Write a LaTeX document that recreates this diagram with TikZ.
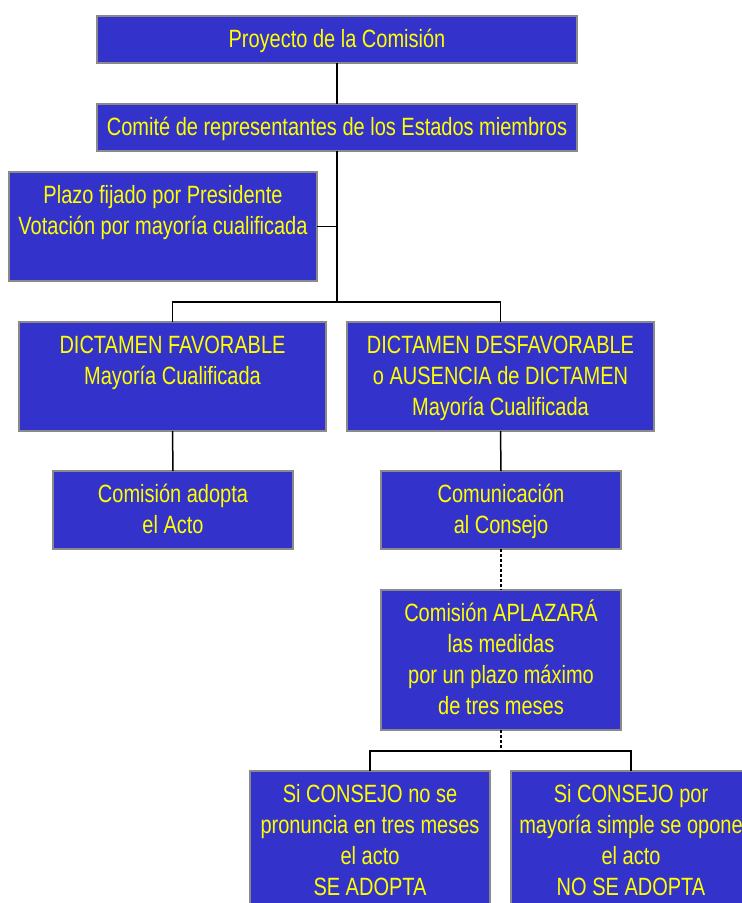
\documentclass[tikz,border=0pt]{standalone}
\usepackage{fontspec}
\setmainfont[FakeStretch=0.80]{Liberation Sans}
\definecolor{boxblue}{HTML}{3333CC}
\definecolor{boxedge}{HTML}{8A8A8A}
\definecolor{txtyellow}{HTML}{FFFF00}
\begin{document}
\begin{tikzpicture}[x=1pt,y=-1pt,
  box/.style={draw=boxedge,line width=1.5pt,fill=boxblue,anchor=north west,
    inner sep=0pt,outer sep=0pt},
  % text block whose last baseline sits #1 lines below the box top
  txt/.style={anchor=base,align=center,inner sep=0pt,text=txtyellow,
    font=\fontsize{25}{31}\selectfont,yshift=-31pt*#1},
  link/.style={line width=1.5pt,black},
  dlink/.style={link,dash pattern=on 3pt off 2pt}]
\useasboundingbox (0,0) rectangle (742,903);
\clip (0,0) rectangle (742,903);

% junction points of the connectors
\coordinate (j2) at (337,302);
\coordinate (j3) at (501,751);

% boxes
\node[box,minimum width=480pt,minimum height=47pt] (b1) at (97,16) {};
\node[box,minimum width=480pt,minimum height=47pt] (b2) at (97,104) {};
\node[box,minimum width=308pt,minimum height=109pt] (b3) at (9,172) {};
\node[box,minimum width=307pt,minimum height=109pt] (b4) at (19,322) {};
\node[box,minimum width=307pt,minimum height=109pt] (b5) at (347,322) {};
\node[box,minimum width=240pt,minimum height=78pt] (b6) at (53,471) {};
\node[box,minimum width=240pt,minimum height=78pt] (b7) at (381,471) {};
\node[box,minimum width=240pt,minimum height=140pt] (b8) at (381,590) {};
\node[box,minimum width=240pt,minimum height=150pt] (b9) at (250,771) {};
\node[box,minimum width=240pt,minimum height=150pt] (b10) at (511,771) {};

% connectors
\coordinate (j1) at (b3.east -| j2);
\draw[link] (b1.south) -- (b2.north);
\draw[link] (b2.south) -- (j2);
\draw[link] (b3.east) -- (j1);
\draw[link] (b4.north) |- (j2) -| (b5.north);
\draw[link] (b4.south) -- (b6.north);
\draw[link] (b5.south) -- (b7.north);
\draw[dlink] (b7.south) -- (b8.north);
\draw[dlink] (b8.south) -- (j3);
\draw[link] (b9.north) |- (j3) -| (b10.north);

% box texts
\node[txt=1] (t1) at (b1.north) {Proyecto de la Comisión};
\node[txt=1] (t2) at (b2.north) {Comité de representantes de los Estados miembros};
\node[txt=2] (t3) at (b3.north) {Plazo fijado por Presidente\\Votación por mayoría cualificada};
\node[txt=2] (t4) at (b4.north) {DICTAMEN FAVORABLE\\Mayoría Cualificada};
\node[txt=3] (t5) at (b5.north) {DICTAMEN DESFAVORABLE\\o AUSENCIA de DICTAMEN\\Mayoría Cualificada};
\node[txt=2] (t6) at (b6.north) {Comisión adopta\\el Acto};
\node[txt=2] (t7) at (b7.north) {Comunicación\\al Consejo};
\node[txt=4] (t8) at (b8.north) {Comisión APLAZARÁ\\las medidas\\por un plazo máximo\\de tres meses};
\node[txt=4] (t9) at (b9.north) {Si CONSEJO no se\\pronuncia en tres meses\\el acto\\SE ADOPTA};
\node[txt=4] (t10) at (b10.north) {Si CONSEJO por\\mayoría simple se opone\\el acto\\NO SE ADOPTA};
\end{tikzpicture}
\end{document}
